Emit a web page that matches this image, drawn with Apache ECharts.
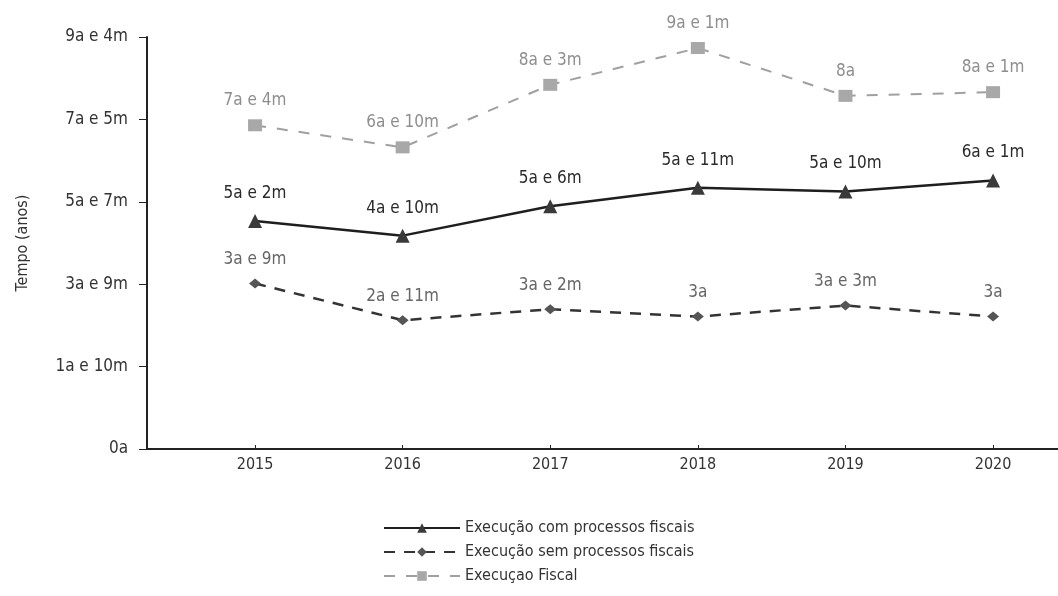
<!DOCTYPE html>
<html>
<head>
<meta charset="utf-8">
<script src="https://cdn.jsdelivr.net/npm/echarts@6/dist/echarts.min.js"></script>
<style>
  html, body { margin: 0; padding: 0; background: #fff; }
  #chart { width: 1058px; height: 596px; }
</style>
</head>
<body>
<div id="chart"></div>
<script>
// anos de referência
var years = [2015, 2016, 2017, 2018, 2019, 2020];
// tempos em meses
var comProcessos = [62, 58, 66, 71, 70, 73];
var semProcessos = [45, 35, 38, 36, 39, 36];
var execFiscal = [88, 82, 99, 109, 96, 97];
// rótulos do eixo Y (0 a 112 meses, passo 22.4)
var yTickLabels = ['0a', '1a e 10m', '3a e 9m', '5a e 7m', '7a e 5m', '9a e 4m'];
var seriesNames = ['Execução com processos fiscais', 'Execução sem processos fiscais', 'Execuçao Fiscal'];

var FONT = '"DejaVu Sans Condensed", "Liberation Sans Narrow", sans-serif';

function fmtMonths(m) {
    var a = Math.floor(m / 12), r = m % 12;
    return r === 0 ? a + 'a' : a + 'a e ' + r + 'm';
}
function pairs(arr) {
    return years.map(function (y, i) { return [y, arr[i]]; });
}

var myChart = echarts.init(document.getElementById('chart'));
var option = {
    backgroundColor: '#fff',
    animation: false,
    textStyle: { fontFamily: FONT },
    grid: { left: 147, top: 37, right: 0, bottom: 147 },
    legend: {
        orient: 'vertical',
        left: 378,
        top: 515,
        itemWidth: 76,
        itemHeight: 12,
        itemGap: 8,
        textStyle: { fontFamily: FONT, fontSize: 16, color: '#333' },
        data: seriesNames
    },
    xAxis: {
        type: 'value',
        min: 2014.268,
        max: 2020.44,
        splitLine: { show: false },
        axisLine: { lineStyle: { color: '#222', width: 2 } },
        axisTick: { show: true, inside: true, length: 4, customValues: years, lineStyle: { color: '#222' } },
        axisLabel: {
            customValues: years, color: '#333', fontSize: 16, margin: 8,
            fontFamily: FONT,
            formatter: function (v) { return String(v); }
        }
    },
    yAxis: {
        type: 'value',
        min: 0,
        max: 112,
        interval: 22.4,
        name: 'Tempo (anos)',
        nameLocation: 'middle',
        nameGap: 116,
        nameTextStyle: { fontFamily: FONT, fontSize: 16, color: '#333' },
        splitLine: { show: false },
        axisLine: { show: true, lineStyle: { color: '#222', width: 2 } },
        axisTick: { show: true, length: 8, lineStyle: { color: '#222' } },
        axisLabel: {
            color: '#333', fontSize: 17, margin: 19, fontFamily: FONT,
            formatter: function (v) { return yTickLabels[Math.round(v / 22.4)]; }
        }
    },
    series: [
        {
            name: seriesNames[0],
            type: 'line',
            data: pairs(comProcessos),
            symbol: 'triangle',
            symbolSize: 14,
            itemStyle: { color: '#3a3a3a' },
            lineStyle: { color: '#1e1e1e', width: 2.5 },
            label: {
                show: true, position: 'top', distance: 12, fontSize: 17, color: '#2a2a2a',
                fontFamily: FONT,
                formatter: function (p) { return fmtMonths(p.value[1]); }
            }
        },
        {
            name: seriesNames[1],
            type: 'line',
            data: pairs(semProcessos),
            symbol: 'diamond',
            symbolSize: [12, 10],
            itemStyle: { color: '#555' },
            lineStyle: { color: '#333', width: 2.5, type: [11, 9] },
            label: {
                show: true, position: 'top', distance: 10, fontSize: 17, color: '#666',
                fontFamily: FONT,
                formatter: function (p) { return fmtMonths(p.value[1]); }
            }
        },
        {
            name: seriesNames[2],
            type: 'line',
            data: pairs(execFiscal),
            symbol: 'rect',
            symbolSize: [14, 12],
            itemStyle: { color: '#a8a8a8' },
            lineStyle: { color: '#a0a0a0', width: 2, type: [11, 11] },
            label: {
                show: true, position: 'top', distance: 10, fontSize: 17, color: '#8e8e8e',
                fontFamily: FONT,
                formatter: function (p) { return fmtMonths(p.value[1]); }
            }
        }
    ]
};
myChart.setOption(option);
</script>
</body>
</html>
